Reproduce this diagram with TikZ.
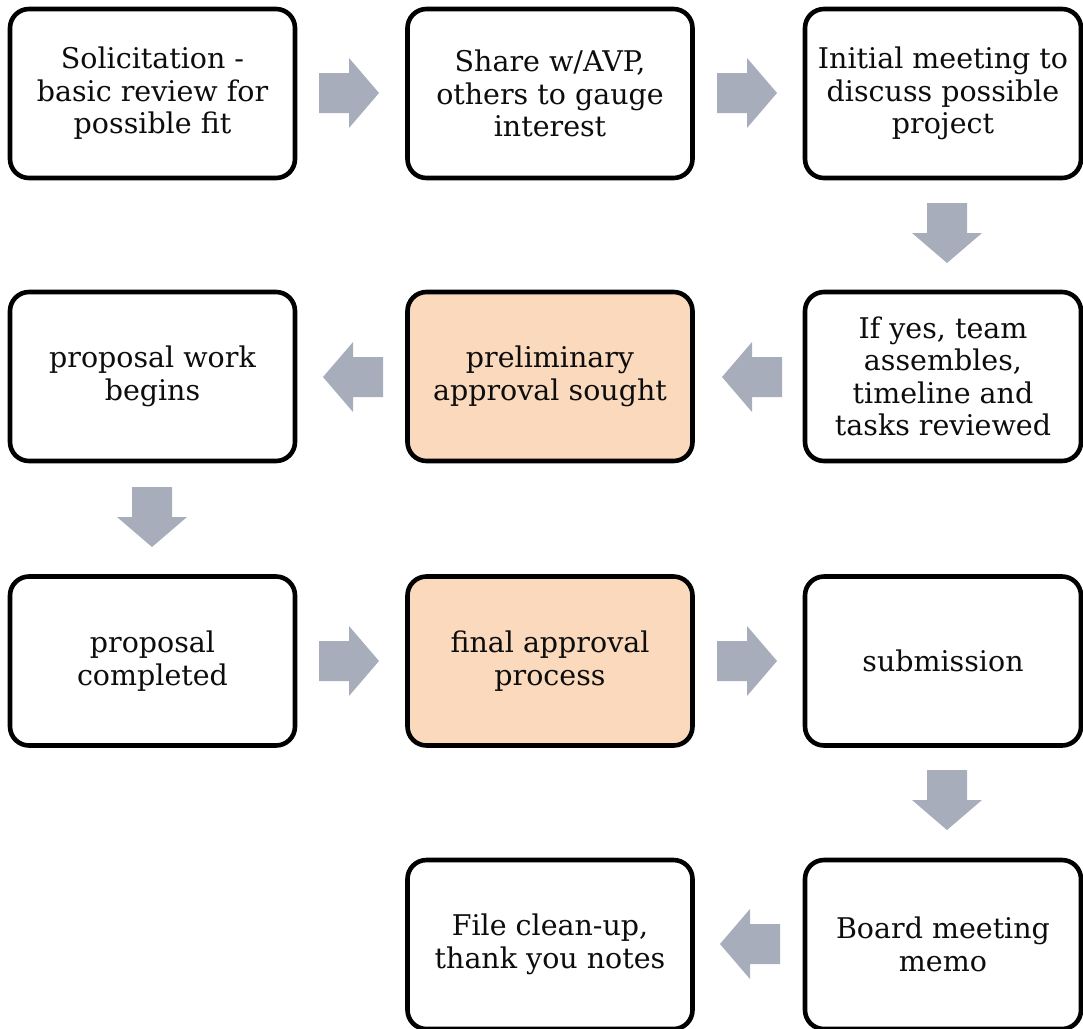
\documentclass[tikz,border=0pt]{standalone}
\usepackage{fontspec}
\setmainfont{DejaVu Serif}
\definecolor{peach}{HTML}{FBD9BC}
\definecolor{arrowgray}{HTML}{A7ADBB}
\newcommand{\blockarrow}[3]{% x, y, rotation
  \fill[arrowgray,shift={(#1,#2)},rotate=#3]
    (-30,-20) -- (0,-20) -- (0,-35) -- (30,0) -- (0,35) -- (0,20) -- (-30,20) -- cycle;}
\begin{document}
\begin{tikzpicture}[x=1pt,y=-1pt,
  stepbox/.style={draw=black,line width=4.6pt,rounded corners=19pt,fill=white,
    minimum width=285pt,minimum height=169pt,align=center,inner sep=0pt,
    font=\fontsize{28.5}{32.5}\selectfont,text=black!95},
  hibox/.style={stepbox,fill=peach},
  narrow/.style={minimum width=276pt}]
\useasboundingbox (0,0) rectangle (1083,1028);
\begin{scope}
\clip (0,0) rectangle (1083,1028);
\node[stepbox] (a) at (152.5,93.5) {Solicitation -\\basic review for\\possible fit};
\node[stepbox] (b) at (550,93.5) {Share w/AVP,\\others to gauge\\interest};
\node[stepbox,narrow] (c) at (943,93.5) {Initial meeting to\\discuss possible\\project};
\node[stepbox,narrow] (d) at (943,376.5) {If yes, team\\assembles,\\timeline and\\tasks reviewed};
\node[hibox] (e) at (550,376.5) {preliminary\\approval sought};
\node[stepbox] (f) at (152.5,376.5) {proposal work\\begins};
\node[stepbox] (g) at (152.5,661) {proposal\\completed};
\node[hibox] (h) at (550,661) {final approval\\process};
\node[stepbox,narrow] (i) at (943,661) {submission};
\node[stepbox,narrow] (j) at (943,944.5) {Board meeting\\memo};
\node[stepbox] (k) at (550,944.5) {File clean-up,\\thank you notes};
\end{scope}
\blockarrow{349}{93}{0}
\blockarrow{747}{93}{0}
\blockarrow{947}{233}{-90}
\blockarrow{752}{377}{180}
\blockarrow{353}{377}{180}
\blockarrow{152}{517}{-90}
\blockarrow{349}{661}{0}
\blockarrow{747}{661}{0}
\blockarrow{947}{800}{-90}
\blockarrow{750}{944}{180}
\end{tikzpicture}
\end{document}
